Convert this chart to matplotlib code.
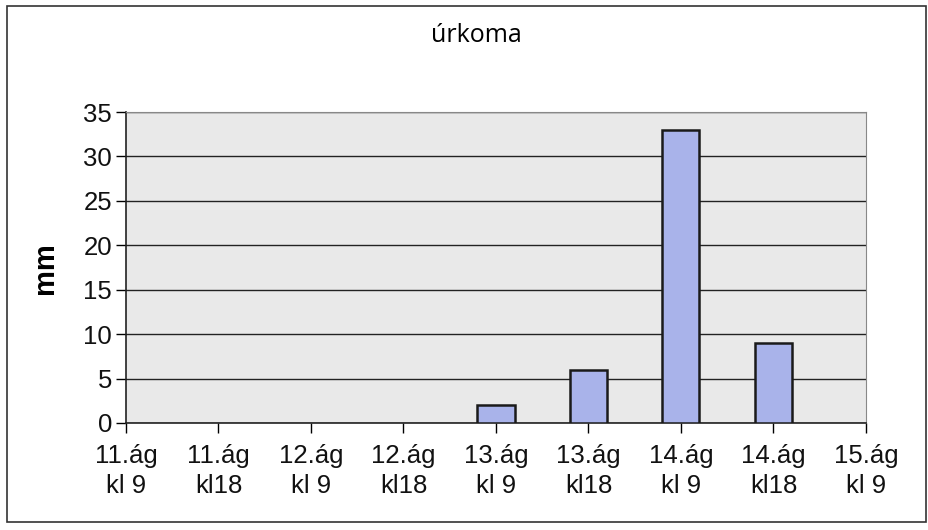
import numpy as np
import matplotlib.pyplot as plt
from matplotlib.patches import Rectangle

# úrkoma (precipitation) per observation time
categories = ["11.ág\nkl 9", "11.ág\nkl18", "12.ág\nkl 9", "12.ág\nkl18",
              "13.ág\nkl 9", "13.ág\nkl18", "14.ág\nkl 9", "14.ág\nkl18",
              "15.ág\nkl 9"]
values = [0, 0, 0, 0, 2, 6, 33, 9, 0]
y_ticks = [0, 5, 10, 15, 20, 25, 30, 35]

plt.rcParams["font.family"] = ["Liberation Sans", "DejaVu Sans"]

fig = plt.figure(figsize=(9.29, 5.30), dpi=100)
ax = fig.add_axes([126 / 929, 1 - 423 / 530, (866 - 126) / 929, (423 - 112) / 530])

x = np.arange(len(categories))
bars = ax.bar(x, values, width=0.4, color="#a9b3ea", edgecolor="#1a1a1a", linewidth=1.8, zorder=3)
for b, v in zip(bars, values):
    if v == 0:
        b.set_visible(False)

ax.set_xlim(0, len(categories) - 1)
ax.set_ylim(0, 35)
ax.set_facecolor("#e9e9e9")
ax.set_yticks(y_ticks)
ax.set_xticks(x)
ax.set_xticklabels(categories, fontsize=18.5, linespacing=1.35, color="#111111")
ax.tick_params(axis="y", labelsize=18.5, labelcolor="#111111", length=7, width=1,
               direction="out", pad=3)
ax.tick_params(axis="x", length=7, width=1, direction="out", pad=8)
ax.grid(axis="y", color="#222222", linewidth=1.0, zorder=1)
for side in ["top", "right"]:
    ax.spines[side].set_color("#888888")
    ax.spines[side].set_linewidth(0.8)
for side in ["left", "bottom"]:
    ax.spines[side].set_color("#222222")
    ax.spines[side].set_linewidth(1.2)

fig.text(45 / 929, 1 - 268 / 530, "mm", rotation=90, fontsize=21, fontweight="bold",
         ha="center", va="center")
fig.text(476 / 929, 1 - 35 / 530, "úrkoma", fontsize=18, ha="center", va="center",
         family=["Open Sans", "DejaVu Sans"])

# outer chart frame
fig.patches.append(Rectangle((7 / 929, 1 - 522 / 530), (926 - 7) / 929, (522 - 6) / 530,
                             transform=fig.transFigure, fill=False,
                             edgecolor="#333333", linewidth=1.2))

fig.savefig("out.png", dpi=100)
